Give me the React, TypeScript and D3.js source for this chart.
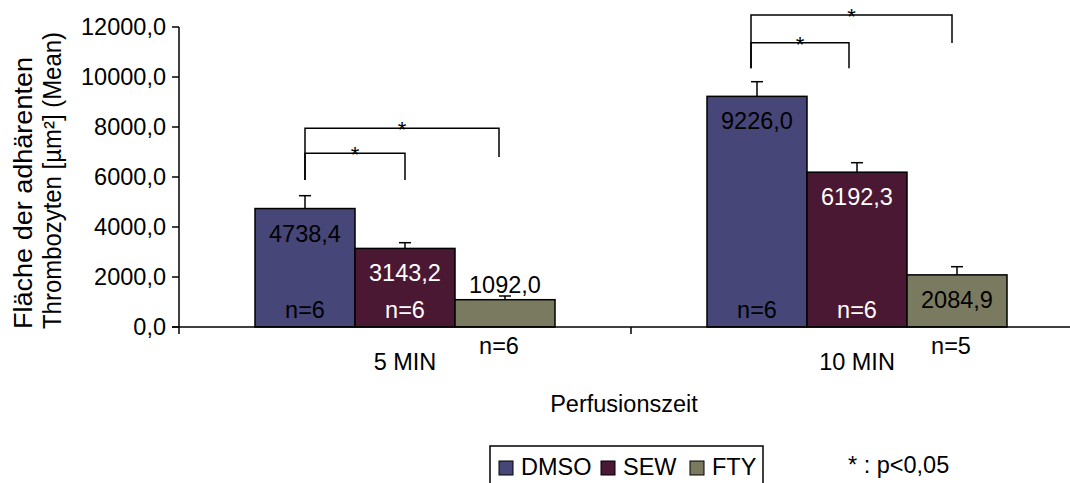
import React from 'react';
import * as d3 from 'd3';

const categories = ['5 MIN', '10 MIN'];
const series = ['DMSO', 'SEW', 'FTY'];
const colors = ['#464678', '#4a1832', '#7a7a60'];
const labelColors = ['#000', '#fff', '#000'];

const dmso = [4738.4, 9226.0];
const sew = [3143.2, 6192.3];
const fty = [1092.0, 2084.9];
const dmsoErr = [514, 586];
const sewErr = [229, 380];
const ftyErr = [148, 327];
const dmsoN = [6, 6];
const sewN = [6, 6];
const ftyN = [6, 5];
const nInside = [true, true, false];

const yTicks = [0, 2000, 4000, 6000, 8000, 10000, 12000];

// significance brackets: bar index positions and heights in µm²
const brackets = [
  { cat: 0, from: 0, to: 1, top: 6950, leftEnd: 5880, rightEnd: 5880 },
  { cat: 0, from: 0, to: 1.94, top: 7950, leftEnd: 5880, rightEnd: 6800 },
  { cat: 1, from: -0.06, to: 0.92, top: 11370, leftEnd: 10350, rightEnd: 10350 },
  { cat: 1, from: -0.06, to: 1.95, top: 12480, leftEnd: 10350, rightEnd: 11360 },
];

const values = [dmso, sew, fty];
const errors = [dmsoErr, sewErr, ftyErr];
const counts = [dmsoN, sewN, ftyN];

const W = 1070;
const H = 483;
const font = '"Liberation Sans", Arial, sans-serif';
const fs = 23.5;
const fmt = (v: number) => v.toFixed(1).replace('.', ',');

export default function App() {
  const x0 = d3.scaleBand<string>().domain(categories).range([179, 1083]).padding(0);
  const x1 = d3.scaleBand<string>().domain(series).range([0, x0.bandwidth()]).paddingInner(0).paddingOuter(0.76);
  const y = d3.scaleLinear().domain([0, 12000]).range([327, 27]);
  const bw = x1.bandwidth();
  const barCenter = (c: number, i: number) => (x0(categories[c]) as number) + (x1(series[0]) as number) + bw * i + bw / 2;

  return (
    <svg width={W} height={H} style={{ position: 'absolute', left: 0, top: 0, background: '#fff' }} fontFamily={font}>
      <rect width={W} height={H} fill="#fff" />

      {/* bars */}
      {categories.map((cat, c) =>
        series.map((s, i) => {
          const v = values[i][c];
          const bx = (x0(cat) as number) + (x1(s) as number);
          const top = y(v);
          const cx = bx + bw / 2;
          const capY = y(v + errors[i][c]);
          const tall = y(0) - top > 40;
          return (
            <g key={cat + s}>
              <line x1={cx} x2={cx} y1={top} y2={capY} stroke="#000" strokeWidth={1.5} />
              <line x1={cx - 6} x2={cx + 6} y1={capY} y2={capY} stroke="#000" strokeWidth={1.5} />
              <rect x={bx} y={top} width={bw} height={y(0) - top} fill={colors[i]} stroke="#000" strokeWidth={1.5} />
              <text x={cx} y={tall ? top + 33 : top - 7} textAnchor="middle" fontSize={fs} fill={tall ? labelColors[i] : '#000'}>
                {fmt(v)}
              </text>
              <text x={nInside[i] ? cx : cx - 6} y={nInside[i] ? 318 : 354} textAnchor="middle" fontSize={fs} fill={nInside[i] ? labelColors[i] : '#000'}>
                {'n=' + counts[i][c]}
              </text>
            </g>
          );
        })
      )}

      {/* brackets */}
      {brackets.map((b, k) => {
        const xa = barCenter(b.cat, b.from);
        const xb = barCenter(b.cat, b.to);
        const yt = y(b.top);
        return (
          <g key={k}>
            <path
              d={`M${xa},${y(b.leftEnd)}V${yt}H${xb}V${y(b.rightEnd)}`}
              fill="none"
              stroke="#000"
              strokeWidth={1.5}
            />
            <text x={(xa + xb) / 2} y={yt + 9} textAnchor="middle" fontSize={22}>*</text>
          </g>
        );
      })}

      {/* y axis */}
      <line x1={179} x2={179} y1={y(12000)} y2={y(0)} stroke="#000" strokeWidth={1.5} />
      {yTicks.map((t) => (
        <g key={t}>
          <line x1={172} x2={179} y1={y(t)} y2={y(t)} stroke="#000" strokeWidth={1.5} />
          <text x={166} y={y(t) + 8} textAnchor="end" fontSize={fs}>{fmt(t)}</text>
        </g>
      ))}

      {/* x axis */}
      <line x1={172} x2={W} y1={y(0)} y2={y(0)} stroke="#000" strokeWidth={1.5} />
      {[...categories.map((c) => x0(c) as number), 1083].map((t, k) => (
        <line key={k} x1={t} x2={t} y1={y(0)} y2={y(0) + 7} stroke="#000" strokeWidth={1.5} />
      ))}
      {categories.map((c) => (
        <text key={c} x={(x0(c) as number) + x0.bandwidth() / 2} y={370} textAnchor="middle" fontSize={fs}>{c}</text>
      ))}
      <text x={624} y={412} textAnchor="middle" fontSize={fs}>Perfusionszeit</text>

      {/* y label */}
      <g transform="translate(0,329) rotate(-90)">
        <text x={0} y={32} fontSize={25} textLength={272} lengthAdjust="spacingAndGlyphs">Fläche der adhärenten</text>
        <text x={0} y={61} fontSize={25} textLength={297} lengthAdjust="spacingAndGlyphs">Thrombozyten [µm²] (Mean)</text>
      </g>

      {/* legend */}
      <rect x={490} y={446} width={273} height={60} fill="none" stroke="#000" strokeWidth={1.5} />
      {series.map((s, i) => {
        const lx = [499, 601, 690][i];
        return (
          <g key={s}>
            <rect x={lx} y={461} width={14} height={14} fill={colors[i]} stroke="#000" strokeWidth={1} />
            <text x={lx + 22} y={475} fontSize={fs}>{s}</text>
          </g>
        );
      })}
      <text x={848} y={473} fontSize={fs}>* : p&lt;0,05</text>
    </svg>
  );
}
